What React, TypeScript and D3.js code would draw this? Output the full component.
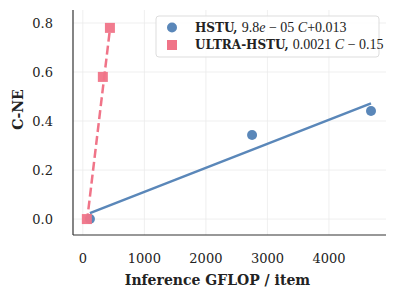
import React from 'react';
import * as d3 from 'd3';

const hstuX = [115, 2750, 4683];
const hstuY = [0.0, 0.343, 0.441];
const ultraX = [65, 325, 440];
const ultraY = [0.0, 0.58, 0.78];
const hstuFit = { a: 9.8e-5, b: 0.013 };
const ultraFit = { a: 0.0021, b: -0.15 };
const xTicks = [0, 1000, 2000, 3000, 4000];
const yTicks = [0.0, 0.2, 0.4, 0.6, 0.8];

const BLUE = '#5a87b9';
const PINK = '#f07488';
const SERIF = '"DejaVu Serif", serif';
const MATH = '"Liberation Serif", "Times New Roman", serif';

const App = () => {
  const width = 396;
  const height = 299;
  const margin = { top: 10, right: 10, bottom: 64, left: 73 };
  const innerWidth = width - margin.left - margin.right;
  const innerHeight = height - margin.top - margin.bottom;

  const xScale = d3.scaleLinear().domain([-160, 4927]).range([0, innerWidth]);
  const yScale = d3.scaleLinear().domain([-0.065, 0.853]).range([innerHeight, 0]);

  const line = d3
    .line<number[]>()
    .x(d => xScale(d[0]))
    .y(d => yScale(d[1]));

  const fitPts = (xs: number[], f: { a: number; b: number }) => {
    const lo = d3.min(xs) as number;
    const hi = d3.max(xs) as number;
    return [
      [lo, f.a * lo + f.b],
      [hi, f.a * hi + f.b],
    ];
  };

  return (
    <svg width={width} height={height} style={{ position: 'absolute', left: 0, top: 0 }}>
      <g transform={`translate(${margin.left}, ${margin.top})`}>
        {xTicks.map(t => (
          <line key={'gx' + t} x1={xScale(t)} x2={xScale(t)} y1={0} y2={innerHeight} stroke="#ebebeb" strokeWidth={0.8} />
        ))}
        {yTicks.map(t => (
          <line key={'gy' + t} x1={0} x2={innerWidth} y1={yScale(t)} y2={yScale(t)} stroke="#ebebeb" strokeWidth={0.8} />
        ))}

        <path d={line(fitPts(hstuX, hstuFit)) || ''} fill="none" stroke={BLUE} strokeWidth={2.5} />
        <path d={line(fitPts(ultraX, ultraFit)) || ''} fill="none" stroke={PINK} strokeWidth={2.5} strokeDasharray="9,4" />

        {hstuX.map((x, i) => (
          <circle key={'h' + i} cx={xScale(x)} cy={yScale(hstuY[i])} r={5} fill={BLUE} />
        ))}
        {ultraX.map((x, i) => (
          <rect key={'u' + i} x={xScale(x) - 5} y={yScale(ultraY[i]) - 5} width={10} height={10} fill={PINK} opacity={0.95} />
        ))}

        <line x1={0} x2={0} y1={0} y2={innerHeight} stroke="#333" strokeWidth={1.2} />
        <line x1={0} x2={innerWidth} y1={innerHeight} y2={innerHeight} stroke="#333" strokeWidth={1.2} />

        {xTicks.map(t => (
          <text key={'tx' + t} x={xScale(t)} y={innerHeight + 28} textAnchor="middle" fontFamily={SERIF} fontSize={13} fill="#222">
            {t}
          </text>
        ))}
        {yTicks.map(t => (
          <text key={'ty' + t} x={-20} y={yScale(t)} dy="0.35em" textAnchor="end" fontFamily={SERIF} fontSize={13} fill="#222">
            {t.toFixed(1)}
          </text>
        ))}

        <text x={innerWidth / 2 - 12} y={innerHeight + 50} textAnchor="middle" fontFamily={SERIF} fontWeight="bold" fontSize={14} fill="#222">
          Inference GFLOP / item
        </text>
        <text transform={`translate(${-50}, ${innerHeight / 2 - 13}) rotate(-90)`} textAnchor="middle" fontFamily={SERIF} fontWeight="bold" fontSize={14} fill="#222">
          C-NE
        </text>

        <g transform={`translate(${156 - margin.left}, ${16 - margin.top})`}>
          <rect x={0} y={0} width={223} height={41} rx={3} fill="white" fillOpacity={0.85} stroke="#dddddd" strokeWidth={1} />
          <circle cx={16} cy={11.5} r={5} fill={BLUE} />
          <rect x={11} y={24} width={10} height={10} fill={PINK} />
          <text x={39} y={11.5} dy="0.35em" fontSize={12} fill="#222">
            <tspan fontFamily={SERIF} fontWeight="bold">HSTU, </tspan>
            <tspan fontFamily={MATH} fontSize={14}>9.8</tspan>
            <tspan fontFamily={MATH} fontStyle="italic" fontSize={14}>e</tspan>
            <tspan fontFamily={MATH} fontSize={14}> − 05</tspan>
            <tspan fontFamily={MATH} fontStyle="italic" fontSize={14}> C</tspan>
            <tspan fontFamily={MATH} fontSize={14}>+0.013</tspan>
          </text>
          <text x={39} y={29} dy="0.35em" fontSize={12} fill="#222">
            <tspan fontFamily={SERIF} fontWeight="bold">ULTRA-HSTU, </tspan>
            <tspan fontFamily={MATH} fontSize={14}>0.0021</tspan>
            <tspan fontFamily={MATH} fontStyle="italic" fontSize={14}> C</tspan>
            <tspan fontFamily={MATH} fontSize={14}> − 0.15</tspan>
          </text>
        </g>
      </g>
    </svg>
  );
};

export default App;
